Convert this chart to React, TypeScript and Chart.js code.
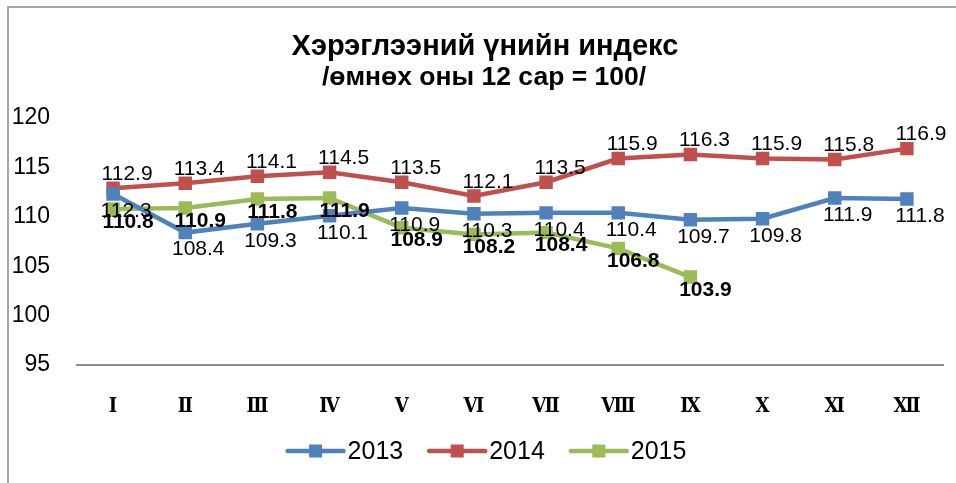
import React, { useEffect, useRef } from "react";
import { Chart, registerables } from "chart.js";

Chart.register(...registerables);

const months = ["Ⅰ", "Ⅱ", "Ⅲ", "Ⅳ", "Ⅴ", "Ⅵ", "Ⅶ", "Ⅷ", "Ⅸ", "Ⅹ", "Ⅺ", "Ⅻ"];
const years = ["2013", "2014", "2015"];
const values2013 = [112.3, 108.4, 109.3, 110.1, 110.9, 110.3, 110.4, 110.4, 109.7, 109.8, 111.9, 111.8];
const values2014 = [112.9, 113.4, 114.1, 114.5, 113.5, 112.1, 113.5, 115.9, 116.3, 115.9, 115.8, 116.9];
const values2015 = [110.8, 110.9, 111.8, 111.9, 108.9, 108.2, 108.4, 106.8, 103.9];
const yTicks = [95, 100, 105, 110, 115, 120];
const titleLines = ["Хэрэглээний үнийн индекс", "/өмнөх оны 12 сар = 100/"];

const colors = ["#4F81BD", "#C0504D", "#9BBB59"];
const labelStyles = [
  { dx: 13, dy: 17, bold: false },
  { dx: 14, dy: -14, bold: false },
  { dx: 15, dy: 13, bold: true },
];

const SANS = "'Liberation Sans', Arial, sans-serif";

const framePlugin = {
  id: "frame",
  beforeDraw(chart: any) {
    const ctx = chart.ctx;
    ctx.save();
    ctx.fillStyle = "#ffffff";
    ctx.fillRect(0, 0, chart.width, chart.height);
    ctx.strokeStyle = "#a6a6a6";
    ctx.lineWidth = 2;
    ctx.beginPath();
    ctx.moveTo(8, chart.height);
    ctx.lineTo(8, 7);
    ctx.lineTo(chart.width, 7);
    ctx.stroke();
    ctx.restore();
  },
};

const titlePlugin = {
  id: "customTitle",
  afterDraw(chart: any) {
    const ctx = chart.ctx;
    ctx.save();
    ctx.fillStyle = "#000";
    ctx.font = `bold 29px ${SANS}`;
    ctx.textAlign = "center";
    ctx.textBaseline = "middle";
    ctx.fillText(titleLines[0], 485, 47);
    ctx.font = `bold 26.5px ${SANS}`;
    ctx.fillText(titleLines[1], 484, 78);
    ctx.restore();
  },
};

const labelPlugin = {
  id: "valueLabels",
  afterDatasetsDraw(chart: any) {
    const ctx = chart.ctx;
    ctx.save();
    ctx.fillStyle = "#000";
    ctx.textAlign = "center";
    ctx.textBaseline = "middle";
    chart.data.datasets.forEach((ds: any, di: number) => {
      const meta = chart.getDatasetMeta(di);
      const st = labelStyles[di];
      ctx.font = `${st.bold ? "bold " : ""}21px ${SANS}`;
      meta.data.forEach((pt: any, i: number) => {
        const v = ds.data[i];
        if (v == null) return;
        ctx.fillText(v.toFixed(1), pt.x + st.dx, pt.y + st.dy);
      });
    });
    ctx.restore();
  },
};

const legendPlugin = {
  id: "customLegend",
  afterDraw(chart: any) {
    const ctx = chart.ctx;
    ctx.save();
    ctx.font = `25px ${SANS}`;
    ctx.textBaseline = "middle";
    ctx.textAlign = "left";
    const lineLen = 56;
    const gapText = 4;
    const gapItem = 26;
    const widths = years.map((y) => lineLen + gapText + ctx.measureText(y).width);
    const total = widths.reduce((a, b) => a + b, 0) + gapItem * (years.length - 1);
    let x = 487 - total / 2;
    const y = 451;
    years.forEach((yr, i) => {
      ctx.strokeStyle = colors[i];
      ctx.lineWidth = 4.5;
      ctx.lineCap = "round";
      ctx.beginPath();
      ctx.moveTo(x, y);
      ctx.lineTo(x + lineLen, y);
      ctx.stroke();
      ctx.fillStyle = colors[i];
      ctx.fillRect(x + lineLen / 2 - 6.5, y - 6.5, 13, 13);
      ctx.fillStyle = "#000";
      ctx.fillText(yr, x + lineLen + gapText, y + 1);
      x += widths[i] + gapItem;
    });
    ctx.restore();
  },
};

export default function App() {
  const ref = useRef<HTMLCanvasElement>(null);
  useEffect(() => {
    if (!ref.current) return;
    const seriesValues = [values2013, values2014, values2015];
    const chart = new Chart(ref.current, {
      type: "line",
      data: {
        labels: months,
        datasets: years.map((yr, i) => ({
          label: yr,
          data: seriesValues[i],
          borderColor: colors[i],
          backgroundColor: colors[i],
          borderWidth: 4.5,
          pointStyle: "rect",
          pointRadius: 9.5,
          pointHoverRadius: 9.5,
          pointBorderWidth: 0,
          tension: 0,
          fill: false,
        })),
      },
      options: {
        responsive: false,
        animation: false,
        events: [],
        layout: { padding: { left: 0, right: 13, top: 118, bottom: 0 } },
        plugins: {
          legend: { display: false },
          title: { display: false },
          tooltip: { enabled: false },
        },
        scales: {
          x: {
            offset: true,
            grid: { display: false },
            border: { display: true, color: "#8c8c8c", width: 2 },
            ticks: {
              padding: 22,
              color: "#000",
              font: { family: "'DejaVu Serif Condensed', 'DejaVu Serif', serif", size: 20, weight: "bold" },
              maxRotation: 0,
              autoSkip: false,
            },
            afterFit: (s: any) => {
              s.height = 118;
            },
          },
          y: {
            min: 95,
            max: 120,
            grid: { display: false },
            border: { display: false },
            afterBuildTicks: (s: any) => {
              s.ticks = yTicks.map((v) => ({ value: v }));
            },
            ticks: {
              padding: 19,
              color: "#000",
              font: { family: SANS, size: 23 },
            },
            afterFit: (s: any) => {
              s.width = 77;
            },
          },
        },
      },
      plugins: [framePlugin, labelPlugin, titlePlugin, legendPlugin],
    });
    return () => chart.destroy();
  }, []);
  return (
    <div style={{ position: "absolute", left: 0, top: 0, width: 956, height: 483 }}>
      <canvas ref={ref} width={956} height={483} style={{ display: "block" }} />
    </div>
  );
}
